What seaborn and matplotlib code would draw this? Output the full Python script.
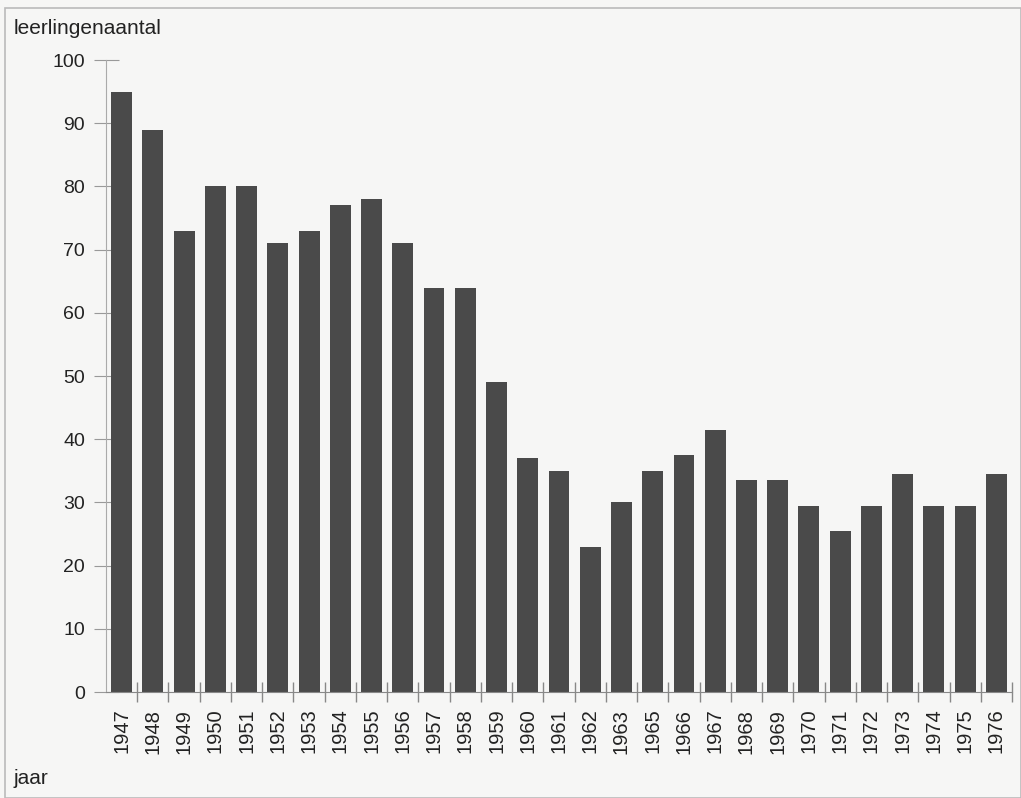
import matplotlib
matplotlib.use("Agg")
import matplotlib.pyplot as plt
import seaborn as sns
import pandas as pd
from matplotlib.patches import Rectangle

# jaartallen (1964 ontbreekt in de bron)
jaren = ['1947', '1948', '1949', '1950', '1951', '1952', '1953', '1954', '1955', '1956',
         '1957', '1958', '1959', '1960', '1961', '1962', '1963', '1965', '1966', '1967',
         '1968', '1969', '1970', '1971', '1972', '1973', '1974', '1975', '1976']
leerlingen = [95, 89, 73, 80, 80, 71, 73, 77, 78, 71,
              64, 64, 49, 37, 35, 23, 30, 35, 37.5, 41.5,
              33.5, 33.5, 29.5, 25.5, 29.5, 34.5, 29.5, 29.5, 34.5]
y_ticks = [0, 10, 20, 30, 40, 50, 60, 70, 80, 90, 100]

df = pd.DataFrame({'jaar': jaren, 'leerlingen': leerlingen})

sns.set_style("white")
plt.rcParams['font.family'] = ['Liberation Sans', 'DejaVu Sans']

fig = plt.figure(figsize=(10.21, 7.98), dpi=100)
fig.patch.set_facecolor('#f6f6f5')
ax = fig.add_axes([0.1038, 0.1328, 0.8874, 0.792])
ax.set_facecolor('#f6f6f5')

sns.barplot(data=df, x='jaar', y='leerlingen', color='#4a4a4a', width=0.67,
            saturation=1, linewidth=0, ax=ax)

ax.set_xlim(-0.5, len(jaren) - 0.5)
ax.set_ylim(0, 100)
ax.set_yticks(y_ticks)
ax.set_xlabel('')
ax.set_ylabel('')

# tickjes op de x-as tussen de staven
ax.set_xticks([i + 0.5 for i in range(len(jaren))], minor=True)
ax.tick_params(axis='x', which='major', bottom=False, length=0, labelsize=14.5,
               pad=12, labelrotation=90, labelcolor='#222222')
ax.tick_params(axis='x', which='minor', bottom=True, length=14, direction='inout',
               color='#888888', width=1)
ax.tick_params(axis='y', left=True, length=18, direction='inout', color='#999999',
               labelsize=14, pad=6, labelcolor='#222222')

for s in ['top', 'right']:
    ax.spines[s].set_visible(False)
ax.spines['left'].set_color('#aaaaaa')
ax.spines['bottom'].set_color('#888888')

fig.text(14 / 1021, 1 - 28 / 798, 'leerlingenaantal', fontsize=15,
         color='#222222', va='center', ha='left')
fig.text(14 / 1021, 1 - 778 / 798, 'jaar', fontsize=15,
         color='#222222', va='center', ha='left')

# kader rond de figuur
fig.patches.append(Rectangle((5 / 1021, 0), 1 - 5 / 1021, 1 - 8 / 798,
                             transform=fig.transFigure, fill=False,
                             edgecolor='#bbbbbb', linewidth=1.2))

fig.savefig('out.png', dpi=100, facecolor=fig.get_facecolor())
